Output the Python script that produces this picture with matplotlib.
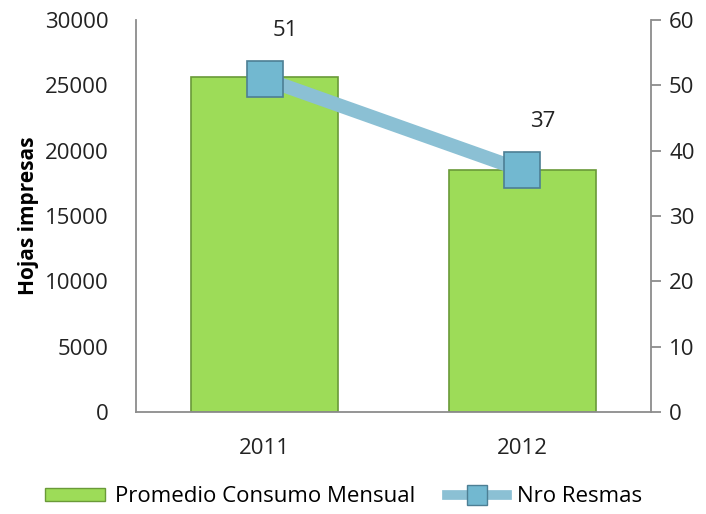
import matplotlib.pyplot as plt
from matplotlib.lines import Line2D
from matplotlib.patches import Patch

years = ['2011', '2012']
hojas = [25600, 18500]
resmas = [51, 37]

plt.rcParams['font.family'] = ['Open Sans', 'DejaVu Sans']
plt.rcParams['font.size'] = 16

fig = plt.figure(figsize=(7.06, 5.14), dpi=100)
ax = fig.add_axes([136 / 706, 1 - 412 / 514, 515 / 706, 392 / 514])
x = range(len(years))

ax.bar(x, hojas, width=0.57, color='#9ddc58', edgecolor='#6a9a38', linewidth=1.2, zorder=2)
ax.set_xlim(-0.5, 1.5)
ax.set_ylim(0, 30000)
ax.set_yticks(range(0, 30001, 5000))
ax.set_xticks(list(x))
ax.set_xticklabels(years)
ax.tick_params(axis='y', length=0, pad=20, colors='#222222')
ax.tick_params(axis='x', length=0, pad=19, colors='#222222')
for s in ['top', 'right']:
    ax.spines[s].set_visible(False)
for s in ['left', 'bottom']:
    ax.spines[s].set_color('#8c8c8c')
    ax.spines[s].set_linewidth(1.3)
ax.set_ylabel('Hojas impresas', fontweight='bold', fontsize=15, labelpad=4)

ax2 = ax.twinx()
ax2.plot(x, resmas, color='#8bc0d4', linewidth=10, solid_capstyle='butt',
         marker='s', markersize=26, markerfacecolor='#72b8d0',
         markeredgecolor='#4d7f94', markeredgewidth=1.2, zorder=3)
for xi, v in zip(x, resmas):
    ax2.annotate(str(v), (xi, v), xytext=(15, 35), textcoords='offset points',
                 ha='center', va='center', fontsize=16, color='#222222')
ax2.set_ylim(0, 60)
ax2.set_yticks(range(0, 61, 10))
ax2.tick_params(axis='y', length=7, width=1.3, pad=6, colors='#222222')
ax2.tick_params(axis='y', color='#8c8c8c')
for s in ['top', 'left', 'bottom']:
    ax2.spines[s].set_visible(False)
ax2.spines['right'].set_color('#8c8c8c')
ax2.spines['right'].set_linewidth(1.3)

handles = [
    Patch(facecolor='#9ddc58', edgecolor='#6a9a38', label='Promedio Consumo Mensual'),
    Line2D([0], [0], color='#8bc0d4', linewidth=7, marker='s', markersize=14,
           markerfacecolor='#72b8d0', markeredgecolor='#4d7f94', label='Nro Resmas'),
]
fig.legend(handles=handles, loc='center', bbox_to_anchor=(0.487, 1 - 497 / 514), ncol=2,
           frameon=False, fontsize=16, handlelength=2.7, handleheight=0.55,
           columnspacing=1.45, handletextpad=0.45)

fig.savefig('out.png', dpi=100)
